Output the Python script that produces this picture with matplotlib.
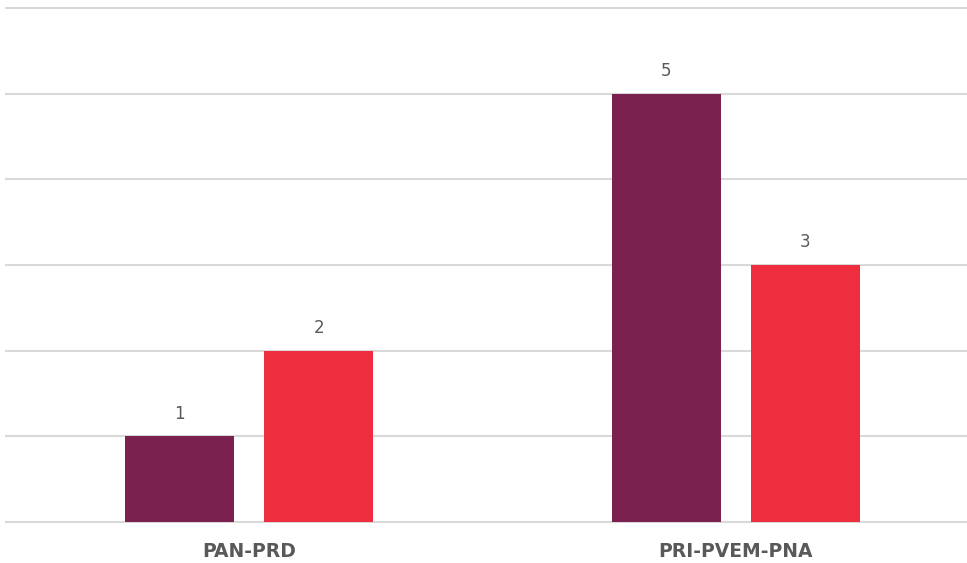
import numpy as np
import matplotlib.pyplot as plt

categories = ['PAN-PRD', 'PRI-PVEM-PNA']
series_a = [1, 5]
series_b = [2, 3]

color_a = '#7B2150'
color_b = '#EE2D3E'
grid_color = '#D9D9D9'
text_color = '#595959'

fig = plt.figure(figsize=(9.67, 5.63), dpi=100)
ax = fig.add_axes([6 / 967, 41 / 563, 973 / 967, 514 / 563])

x = np.arange(len(categories))
w = 0.224
off = 0.143
bars_a = ax.bar(x - off, series_a, w, color=color_a, zorder=3)
bars_b = ax.bar(x + off, series_b, w, color=color_b, zorder=3)

for bars in (bars_a, bars_b):
    for b in bars:
        ax.text(b.get_x() + b.get_width() / 2, b.get_height() + 0.16,
                str(int(b.get_height())), ha='center', va='bottom',
                fontsize=12, color=text_color, family='DejaVu Sans',
                weight='normal')

ax.set_xlim(-0.5, 1.5)
ax.set_ylim(0, 6)
ax.set_yticks(range(0, 7))
ax.yaxis.grid(True, color=grid_color, linewidth=1.5, zorder=0)
for gl in ax.get_ygridlines():
    gl.set_clip_on(False)
ax.tick_params(left=False, labelleft=False, bottom=False)
ax.set_xticks(x)
ax.set_xticklabels(categories, fontsize=13.5, fontweight='bold', color=text_color,
                   family='DejaVu Sans')
ax.tick_params(axis='x', pad=11)
for s in ax.spines.values():
    s.set_visible(False)

fig.savefig('out.png', dpi=100)
